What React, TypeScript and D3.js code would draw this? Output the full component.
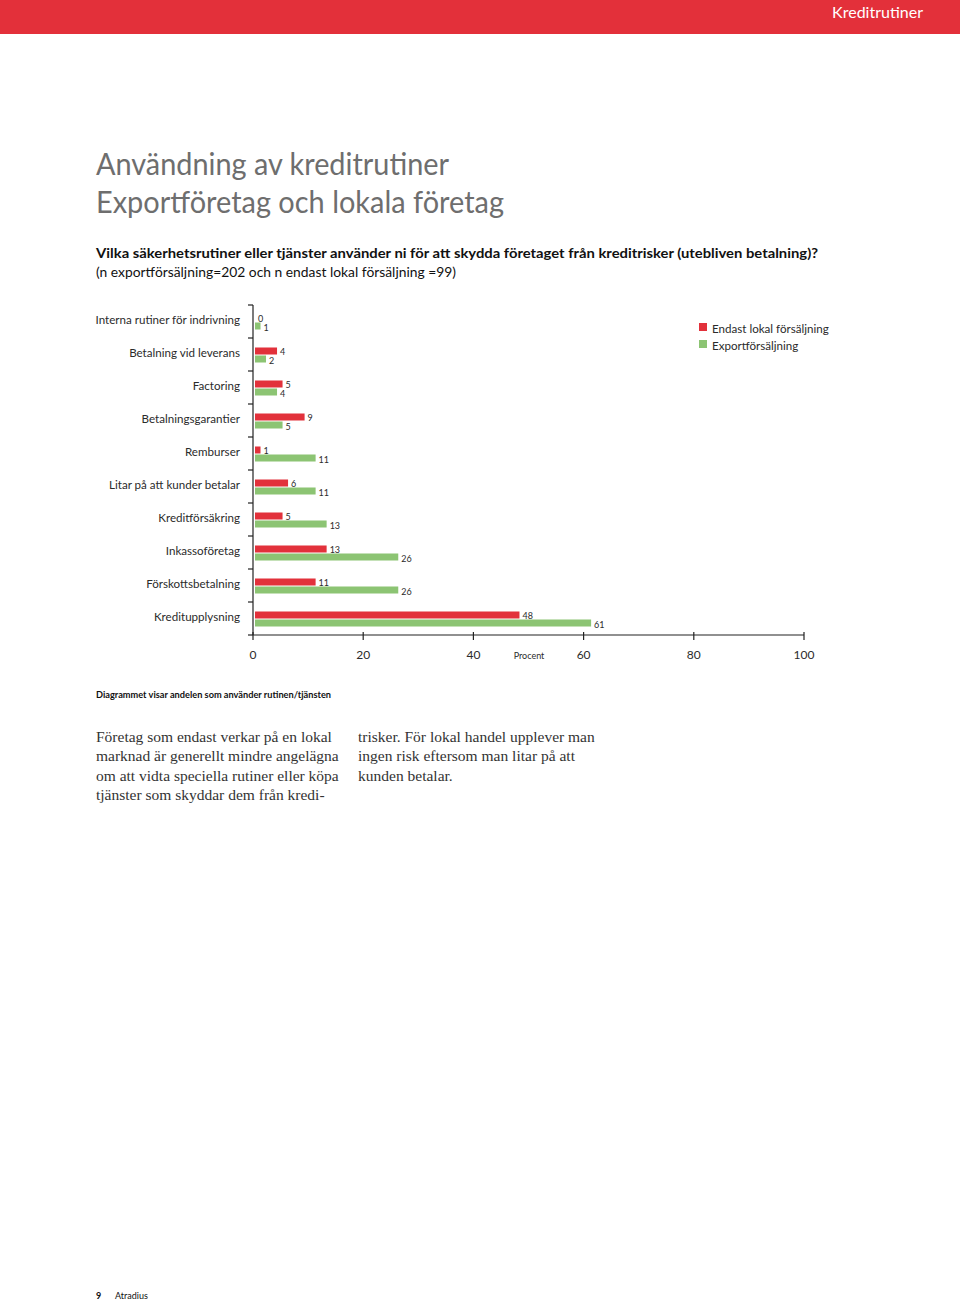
import React from "react";
import * as d3 from "d3";

const categories = [
  "Interna rutiner för indrivning",
  "Betalning vid leverans",
  "Factoring",
  "Betalningsgarantier",
  "Remburser",
  "Litar på att kunder betalar",
  "Kreditförsäkring",
  "Inkassoföretag",
  "Förskottsbetalning",
  "Kreditupplysning",
];
const localValues = [0, 4, 5, 9, 1, 6, 5, 13, 11, 48];
const exportValues = [1, 2, 4, 5, 11, 11, 13, 26, 26, 61];
const xTicks = [0, 20, 40, 60, 80, 100];
const seriesNames = ["Endast lokal försäljning", "Exportförsäljning"];
const seriesColors = ["#e2313b", "#8cc473"];

const leftText = [
  "Företag som endast verkar på en lokal",
  "marknad är generellt mindre angelägna",
  "om att vidta speciella rutiner eller köpa",
  "tjänster som skyddar dem från kredi-",
];
const rightText = [
  "trisker. För lokal handel upplever man",
  "ingen risk eftersom man litar på att",
  "kunden betalar.",
];

const SANS = "Lato, 'Open Sans', sans-serif";

export default function App() {
  const x = d3.scaleLinear().domain([0, 100]).range([253, 804]);
  const y = d3.scaleBand<string>().domain(categories).range([305, 635]).paddingInner(0);
  const x0 = x(0);
  const barH = 7;
  const ink = "#2b2b2b";

  return (
    <svg
      width={960}
      height={1301}
      style={{ position: "absolute", left: 0, top: 0 }}
      fontFamily={SANS}
    >
      <rect x={0} y={0} width={960} height={1301} fill="#fff" />
      {/* header */}
      <rect x={0} y={0} width={960} height={34} fill="#e3303a" />
      <text x={923} y={11} textAnchor="end" dominantBaseline="central" fill="#fff" fontSize={16}>
        Kreditrutiner
      </text>

      {/* title */}
      <text x={96} y={175} fill="#6e6e6e" fontSize={30} fontWeight={400} textLength={353} lengthAdjust="spacingAndGlyphs">
        Användning av kreditrutiner
      </text>
      <text x={96} y={213} fill="#6e6e6e" fontSize={30} fontWeight={400} textLength={408} lengthAdjust="spacingAndGlyphs">
        Exportföretag och lokala företag
      </text>

      {/* question */}
      <text x={96} y={258} fill="#111" fontSize={14} fontWeight={700} textLength={722} lengthAdjust="spacingAndGlyphs">
        Vilka säkerhetsrutiner eller tjänster använder ni för att skydda företaget från kreditrisker (utebliven betalning)?
      </text>
      <text x={96} y={277} fill="#111" fontSize={14} textLength={360} lengthAdjust="spacingAndGlyphs">
        (n exportförsäljning=202 och n endast lokal försäljning =99)
      </text>

      {/* category labels */}
      {categories.map((c) => (
        <text
          key={c}
          x={240}
          y={(y(c) as number) + y.bandwidth() / 2 - 2}
          textAnchor="end"
          dominantBaseline="central"
          fontSize={11.6}
          fill={ink}
        >
          {c}
        </text>
      ))}

      {/* bars */}
      {categories.map((c, i) => {
        const top = y(c) as number;
        const rY = top + 9.5;
        const gY = top + 17.5;
        return (
          <g key={"b" + c}>
            <rect x={x0 + 2} y={rY} width={x(localValues[i]) - x0} height={barH} fill={seriesColors[0]} />
            <rect x={x0 + 2} y={gY} width={x(exportValues[i]) - x0} height={barH} fill={seriesColors[1]} />
            <text x={x(localValues[i]) + 5} y={rY + barH / 2} dominantBaseline="central" fontSize={9} fill={ink}>
              {localValues[i]}
            </text>
            <text x={x(exportValues[i]) + 5} y={gY + barH / 2 + 1} dominantBaseline="central" fontSize={9} fill={ink}>
              {exportValues[i]}
            </text>
          </g>
        );
      })}

      {/* y axis */}
      <line x1={x0} x2={x0} y1={305} y2={635} stroke="#222" strokeWidth={1.2} />
      {[...categories.map((c) => y(c) as number), 635].map((t, i) => (
        <line key={"yt" + i} x1={x0 - 5} x2={x0} y1={t} y2={t} stroke="#222" strokeWidth={1.2} />
      ))}

      {/* x axis */}
      <line x1={x0} x2={x(100)} y1={635} y2={635} stroke="#222" strokeWidth={1.2} />
      {xTicks.map((t) => (
        <g key={"xt" + t}>
          <line x1={x(t)} x2={x(t)} y1={632} y2={640} stroke="#222" strokeWidth={1.2} />
          <text x={x(t)} y={654} textAnchor="middle" dominantBaseline="central" fontSize={12} fill={ink}>
            {t}
          </text>
        </g>
      ))}
      <text x={529} y={655} textAnchor="middle" dominantBaseline="central" fontSize={9} fill={ink}>
        Procent
      </text>

      {/* legend */}
      {seriesNames.map((s, i) => (
        <g key={s}>
          <rect x={699} y={323 + i * 17} width={8} height={8} fill={seriesColors[i]} />
          <text x={712} y={328 + i * 17} dominantBaseline="central" fontSize={11.6} fill={ink}>
            {s}
          </text>
        </g>
      ))}

      {/* footnote */}
      <text x={96} y={698} fontSize={9} fontWeight={700} fill="#111" textLength={235} lengthAdjust="spacingAndGlyphs">
        Diagrammet visar andelen som använder rutinen/tjänsten
      </text>

      {/* body text */}
      {leftText.map((t, i) => (
        <text key={"l" + i} x={96} y={742 + i * 19.3} fontFamily="'Liberation Serif', serif" fontSize={15.5} fill="#333">
          {t}
        </text>
      ))}
      {rightText.map((t, i) => (
        <text key={"r" + i} x={358} y={742 + i * 19.3} fontFamily="'Liberation Serif', serif" fontSize={15.5} fill="#333">
          {t}
        </text>
      ))}

      {/* footer */}
      <text x={96} y={1299} fontSize={9} fontWeight={700} fill="#111">9</text>
      <text x={115} y={1299} fontSize={9} fill="#111">Atradius</text>
    </svg>
  );
}
